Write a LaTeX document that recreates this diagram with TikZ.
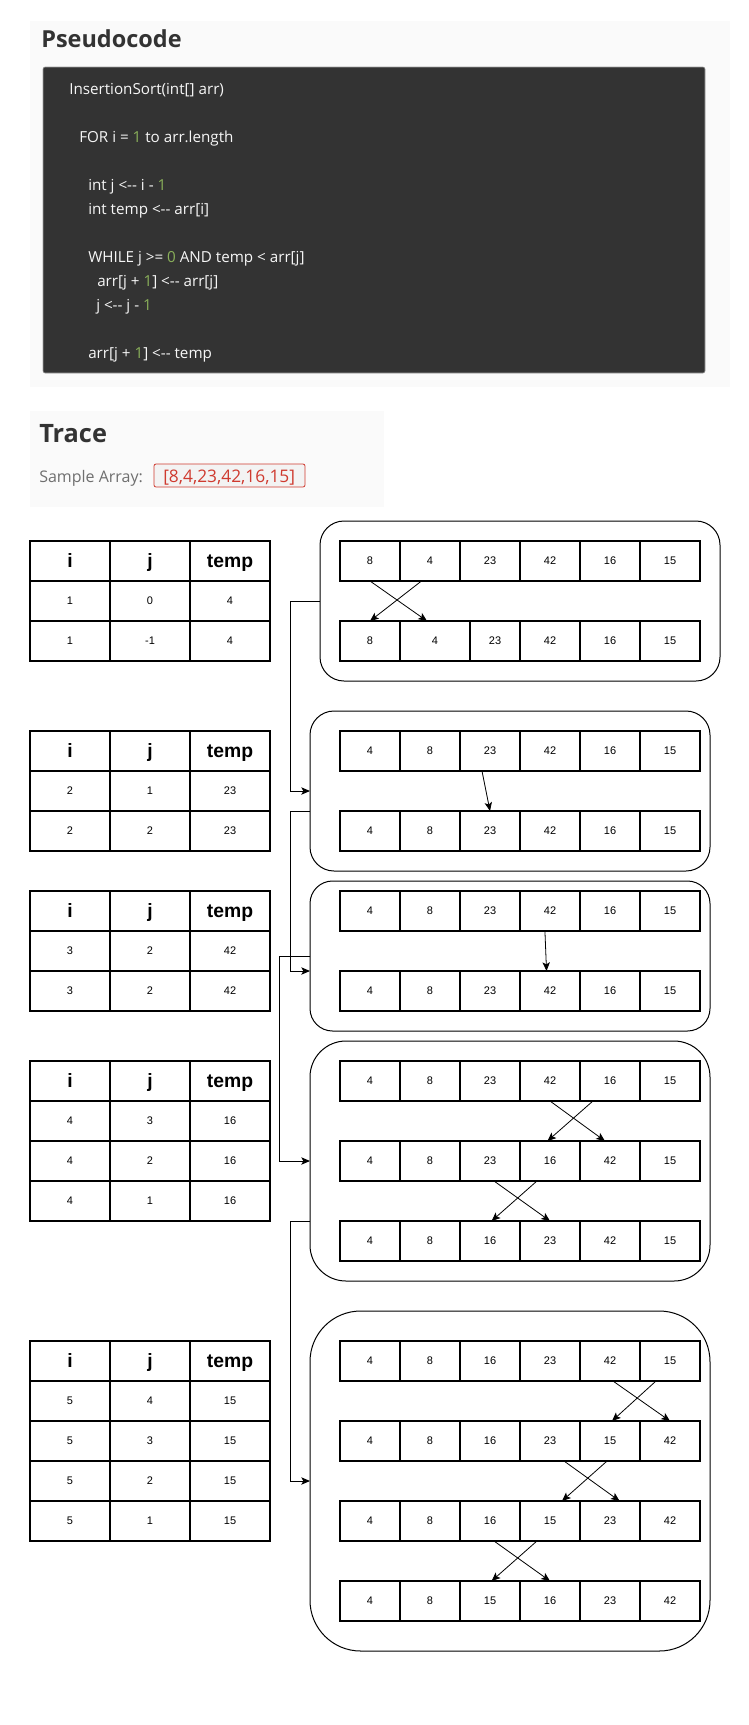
\documentclass[tikz,border=0pt]{standalone}
\usepackage{fontspec}
\setmainfont{Liberation Sans}
\newfontfamily\webfont{Open Sans}
\usepackage{xcolor}
\definecolor{panel-grey}{HTML}{FAFAFA}
\definecolor{code-dark}{HTML}{333333}
\definecolor{code-edge}{HTML}{A0A0A0}
\definecolor{code-white}{HTML}{F6F6F6}
\definecolor{code-green}{HTML}{8AB05A}
\definecolor{heading-grey}{HTML}{333333}
\definecolor{label-grey}{HTML}{6F6F6F}
\definecolor{sample-red}{HTML}{CF3A2F}
\definecolor{sample-fill}{HTML}{F3F3F3}
\usetikzlibrary{arrows.meta}

\newcommand{\codenum}[1]{\textcolor{code-green}{#1}}

\tikzset{
  heading/.style={anchor=base west, inner sep=0pt, text=heading-grey},
  codeline/.style={anchor=base west, inner sep=0pt, text=code-white,
    font=\webfont\fontsize{11.4}{14}\selectfont},
  headcell/.style={draw, line width=0.9pt, outer sep=0pt, inner sep=0pt,
    anchor=north west, minimum width=60pt, minimum height=30pt,
    text height=10.5pt, text depth=1.5pt,
    font=\fontsize{14.5}{16}\selectfont\bfseries},
  datacell/.style={draw, line width=0.9pt, outer sep=0pt, inner sep=0pt,
    anchor=north west, minimum width=60pt, minimum height=30pt,
    font=\fontsize{8.25}{10}\selectfont},
  arraycell/.style={datacell, minimum width=45pt},
  stepframe/.style={draw, line width=0.75pt, outer sep=0pt, inner sep=0pt,
    anchor=north west, minimum width=300pt, rounded corners=#1},
  nextstep/.style={line width=0.75pt, -{Stealth[length=6.5pt,width=5.5pt,inset=1.5pt]}},
  moveline/.style={line width=0.6pt, -{Stealth[length=6.5pt,width=5.5pt,inset=1.5pt]}},
}

\begin{document}
\begin{tikzpicture}[x=0.75pt, y=-0.75pt]

    % Page
    \fill[white] (0,0) rectangle (749,1725);
    \useasboundingbox (0,0) rectangle (749,1725);

    % Pseudocode panel
    \fill[panel-grey] (30,21) rectangle (730,387);
    \node[heading, font=\webfont\fontsize{17.6}{20}\selectfont\bfseries] (pseudo-title) at (41,47) {Pseudocode};
    \filldraw[fill=code-dark, draw=code-edge, line width=0.4pt, rounded corners=1.5pt] (43,67) rectangle (705,373);
    \node[codeline] (line-sort) at (69,94) {InsertionSort(int[] arr)};
    \node[codeline] (line-for) at (79,142) {FOR i = \codenum{1} to arr.length};
    \node[codeline] (line-j) at (88,190) {int j <-{}- i - \codenum{1}};
    \node[codeline] (line-temp) at (88,214) {int temp <-{}- arr[i]};
    \node[codeline] (line-while) at (88,262) {WHILE j >= \codenum{0} AND temp < arr[j]};
    \node[codeline] (line-move) at (97,286) {arr[j + \codenum{1}] <-{}- arr[j]};
    \node[codeline] (line-dec) at (96,310) {j <-{}- j - \codenum{1}};
    \node[codeline] (line-put) at (88,358) {arr[j + \codenum{1}] <-{}- temp};

    % Trace panel
    \fill[panel-grey] (30,411) rectangle (384,507);
    \node[heading, font=\webfont\fontsize{19}{22}\selectfont\bfseries] (trace-title) at (39,442) {Trace};
    \node[heading, text=label-grey, font=\webfont\fontsize{12}{14}\selectfont] (sample-label) at (39,482) {Sample Array:};
    \filldraw[fill=sample-fill, draw=sample-red, line width=0.6pt, rounded corners=1.5pt] (154,464) rectangle (305,487);
    \node[heading, text=sample-red, font=\webfont\fontsize{13}{15}\selectfont] (sample-array) at (163,482) {[8,4,23,42,16,15]};

    % Table i = 1
    \foreach \head [count=\c from 0] in {i,j,temp}
      \node[headcell] (t1-0-\c) at (30+80*\c,541) {\head};
    \foreach \vi/\vj/\vt [count=\r] in {1/0/4,1/-1/4} {
      \node[datacell] (t1-\r-0) at (30,541+40*\r) {\vi};
      \node[datacell] (t1-\r-1) at (110,541+40*\r) {\vj};
      \node[datacell] (t1-\r-2) at (190,541+40*\r) {\vt};
    }

    % Table i = 2
    \foreach \head [count=\c from 0] in {i,j,temp}
      \node[headcell] (t2-0-\c) at (30+80*\c,731) {\head};
    \foreach \vi/\vj/\vt [count=\r] in {2/1/23,2/2/23} {
      \node[datacell] (t2-\r-0) at (30,731+40*\r) {\vi};
      \node[datacell] (t2-\r-1) at (110,731+40*\r) {\vj};
      \node[datacell] (t2-\r-2) at (190,731+40*\r) {\vt};
    }

    % Table i = 3
    \foreach \head [count=\c from 0] in {i,j,temp}
      \node[headcell] (t3-0-\c) at (30+80*\c,891) {\head};
    \foreach \vi/\vj/\vt [count=\r] in {3/2/42,3/2/42} {
      \node[datacell] (t3-\r-0) at (30,891+40*\r) {\vi};
      \node[datacell] (t3-\r-1) at (110,891+40*\r) {\vj};
      \node[datacell] (t3-\r-2) at (190,891+40*\r) {\vt};
    }

    % Table i = 4
    \foreach \head [count=\c from 0] in {i,j,temp}
      \node[headcell] (t4-0-\c) at (30+80*\c,1061) {\head};
    \foreach \vi/\vj/\vt [count=\r] in {4/3/16,4/2/16,4/1/16} {
      \node[datacell] (t4-\r-0) at (30,1061+40*\r) {\vi};
      \node[datacell] (t4-\r-1) at (110,1061+40*\r) {\vj};
      \node[datacell] (t4-\r-2) at (190,1061+40*\r) {\vt};
    }

    % Table i = 5
    \foreach \head [count=\c from 0] in {i,j,temp}
      \node[headcell] (t5-0-\c) at (30+80*\c,1341) {\head};
    \foreach \vi/\vj/\vt [count=\r] in {5/4/15,5/3/15,5/2/15,5/1/15} {
      \node[datacell] (t5-\r-0) at (30,1341+40*\r) {\vi};
      \node[datacell] (t5-\r-1) at (110,1341+40*\r) {\vj};
      \node[datacell] (t5-\r-2) at (190,1341+40*\r) {\vt};
    }

    % Step i = 1
    \node[stepframe=18pt, minimum height=120pt] (step1) at (320,521) {};
    \foreach \v [count=\c from 0] in {8,4,23,42,16,15}
      \node[arraycell] (s1a-\c) at (340+60*\c,541) {\v};
    \node[arraycell] (s1b-0) at (340,621) {8};
    \node[arraycell, minimum width=52.5pt] (s1b-1) at (400,621) {4};
    \node[arraycell, minimum width=37.5pt] (s1b-2) at (470,621) {23};
    \foreach \v [count=\c from 3] in {42,16,15}
      \node[arraycell] (s1b-\c) at (340+60*\c,621) {\v};
    \draw[moveline] (s1a-0.south) -- ([xshift=-6pt]s1b-1.north);
    \draw[moveline] ([xshift=-6.4pt]s1a-1.south) -- (s1b-0.north);

    % Step i = 2
    \node[stepframe=18pt, minimum height=120pt] (step2) at (310,711) {};
    \foreach \v [count=\c from 0] in {4,8,23,42,16,15}
      \node[arraycell] (s2a-\c) at (340+60*\c,731) {\v};
    \foreach \v [count=\c from 0] in {4,8,23,42,16,15}
      \node[arraycell] (s2b-\c) at (340+60*\c,811) {\v};
    \draw[moveline] ([xshift=-6pt]s2a-2.south) -- (s2b-2.north);

    % Step i = 3
    \node[stepframe=16.9pt, minimum height=112.5pt] (step3) at (310,881) {};
    \foreach \v [count=\c from 0] in {4,8,23,42,16,15}
      \node[arraycell] (s3a-\c) at (340+60*\c,891) {\v};
    \foreach \v [count=\c from 0] in {4,8,23,42,16,15}
      \node[arraycell] (s3b-\c) at (340+60*\c,971) {\v};
    \draw[moveline] ([xshift=-3.8pt]s3a-3.south) -- ([xshift=-2.6pt]s3b-3.north);

    % Step i = 4
    \node[stepframe=27pt, minimum height=180pt] (step4) at (310,1041) {};
    \foreach \v [count=\c from 0] in {4,8,23,42,16,15}
      \node[arraycell] (s4a-\c) at (340+60*\c,1061) {\v};
    \foreach \v [count=\c from 0] in {4,8,23,16,42,15}
      \node[arraycell] (s4b-\c) at (340+60*\c,1141) {\v};
    \foreach \v [count=\c from 0] in {4,8,16,23,42,15}
      \node[arraycell] (s4c-\c) at (340+60*\c,1221) {\v};
    \draw[moveline] (s4a-3.south) -- ([xshift=-3.8pt]s4b-4.north);
    \draw[moveline] ([xshift=-12.8pt]s4a-4.south) -- ([xshift=-1.9pt]s4b-3.north);
    \draw[moveline] ([xshift=3pt]s4b-2.south) -- (s4c-3.north);
    \draw[moveline] ([xshift=-9.8pt]s4b-3.south) -- ([xshift=1.2pt]s4c-2.north);

    % Step i = 5
    \node[stepframe=38pt, minimum height=255pt] (step5) at (310,1311) {};
    \foreach \v [count=\c from 0] in {4,8,16,23,42,15}
      \node[arraycell] (s5a-\c) at (340+60*\c,1341) {\v};
    \foreach \v [count=\c from 0] in {4,8,16,23,15,42}
      \node[arraycell] (s5b-\c) at (340+60*\c,1421) {\v};
    \foreach \v [count=\c from 0] in {4,8,16,15,23,42}
      \node[arraycell] (s5c-\c) at (340+60*\c,1501) {\v};
    \foreach \v [count=\c from 0] in {4,8,15,16,23,42}
      \node[arraycell] (s5d-\c) at (340+60*\c,1581) {\v};
    \draw[moveline] ([xshift=2.2pt]s5a-4.south) -- (s5b-5.north);
    \draw[moveline] ([xshift=-10.5pt]s5a-5.south) -- ([xshift=1.5pt]s5b-4.north);
    \draw[moveline] ([xshift=10.5pt]s5b-3.south) -- ([xshift=7.2pt]s5c-4.north);
    \draw[moveline] ([xshift=-2.2pt]s5b-4.south) -- ([xshift=9pt]s5c-3.north);
    \draw[moveline] ([xshift=3pt]s5c-2.south) -- (s5d-3.north);
    \draw[moveline] ([xshift=-9.8pt]s5c-3.south) -- ([xshift=1.2pt]s5d-2.north);

    % Links between steps
    \draw[nextstep] (step1.west) -- ++(-30,0) |- (step2.west);
    \draw[nextstep] (step2.west |- s2b-0.north) -- ++(-20,0) |- (step3.west |- s3b-0.north);
    \draw[nextstep] (step3.west) -- ++(-31,0) |- (step4.west);
    \draw[nextstep] (step4.west |- s4c-0.north) -- ++(-20,0) |- (step5.west);

\end{tikzpicture}
\end{document}
